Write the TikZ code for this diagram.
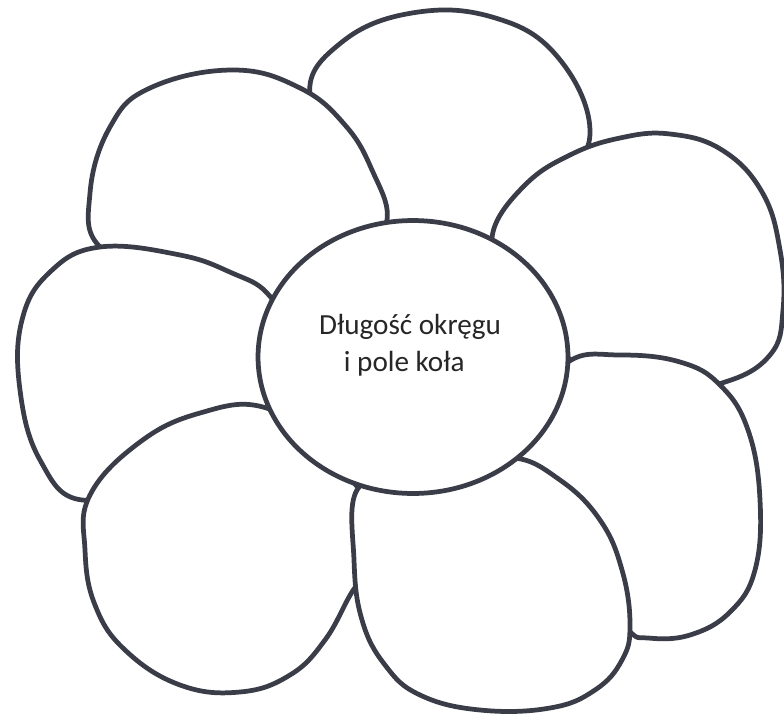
\documentclass[tikz,border=0pt]{standalone}
\usepackage{fontspec}
\setmainfont{Carlito}
\usepackage{tikz}
\usetikzlibrary{shapes.geometric}
\definecolor{inkgray}{HTML}{3A3D48}

\begin{document}
\begin{tikzpicture}[
  x=0.02cm, y=-0.02cm,
  petal/.style={draw=inkgray, line width=2.7pt, fill=white, line join=round},
  heart/.style={ellipse, draw=inkgray, line width=2.7pt, fill=white,
                minimum width=6.2cm, minimum height=5.46cm, inner sep=0pt},
  lbl/.style={align=left, font=\fontsize{16.6}{21}\selectfont, text=black!85},
]
  \useasboundingbox[fill=white] (0,0) rectangle (784,720);

  % petals, back to front
  \draw[petal] plot[smooth cycle, tension=0.7] coordinates
    {(310,95) (342,42) (412,13) (492,17) (556,55) (590,130) (560,185) (510,238) (450,250) (395,235) (355,165)};
  \draw[petal] plot[smooth cycle, tension=0.7] coordinates
    {(493,232) (525,185) (570,155) (620,138) (670,134) (722,150) (762,192) (780,250) (783,310) (770,355) (722,383) (650,392) (585,372) (540,320) (505,270)};
  \draw[petal] plot[smooth cycle, tension=0.7] coordinates
    {(568,362) (620,355) (680,362) (720,385) (748,430) (760,500) (755,570) (730,612) (690,635) (648,638) (628,630) (590,585) (540,500) (512,452) (530,415)};
  \draw[petal] plot[smooth cycle, tension=0.7] coordinates
    {(100,247) (90,193) (110,127) (150,88) (233,70) (300,88) (345,125) (372,170) (387,220) (360,255) (310,285) (250,300) (170,275)};
  \draw[petal] plot[smooth cycle, tension=0.7] coordinates
    {(100,247) (180,255) (232,273) (267,293) (285,330) (285,390) (250,440) (160,475) (82,500) (40,460) (20,390) (22,320) (50,272)};
  \draw[petal] plot[smooth cycle, tension=0.7] coordinates
    {(90,495) (140,442) (200,413) (263,407) (320,445) (345,472) (378,520) (372,565) (352,592) (325,640) (290,675) (240,692) (180,685) (125,650) (95,605) (85,550)};
  \draw[petal] plot[smooth cycle, tension=0.7] coordinates
    {(357,490) (354,560) (362,620) (385,665) (420,695) (480,710) (550,708) (595,690) (622,660) (630,625) (622,570) (600,520) (560,480) (512,458) (460,476) (400,482)};

  % centre
  \node[heart] (core) at (413,357) {};
  \node[lbl] (title) at (410,345) {Długość okręgu\\\hspace*{0.85em}i pole koła};
\end{tikzpicture}
\end{document}
